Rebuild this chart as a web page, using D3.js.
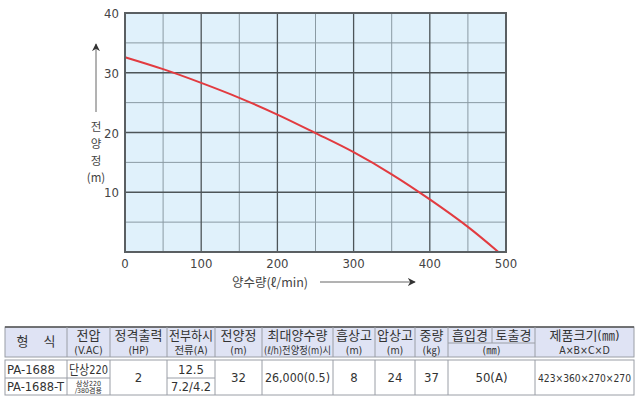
<!DOCTYPE html>
<html>
<head>
<meta charset="utf-8">
<script src="https://cdn.jsdelivr.net/npm/d3@7"></script>
<style>
  body { margin: 0; background: #fff; }
  svg { display: block; font-family: "DejaVu Sans Condensed", "Noto Sans CJK KR", sans-serif; }
</style>
</head>
<body>
<script>
// 성능곡선 데이터 (양수량 l/min, 전양정 m)
var flow = [0, 50, 100, 150, 200, 250, 300, 350, 400, 450, 490];
var head = [32.6, 30.6, 28.3, 25.8, 23.0, 19.9, 16.7, 13.0, 8.8, 4.2, 0];
var xTicks = [0, 100, 200, 300, 400, 500];
var yTicks = [10, 20, 30, 40];

// 사양표
var headers = ['형    식', '전압', '정격출력', '전부하시', '전양정', '최대양수량', '흡상고', '압상고', '중량', '흡입경', '토출경', '제품크기(㎜)'];
var subHeaders = ['', '(V.AC)', '(HP)', '전류(A)', '(m)', '(ℓ/h)전양정(m)시', '(m)', '(m)', '(㎏)', '(㎜)', '', 'A×B×C×D'];
var models = ['PA-1688', 'PA-1688-T'];
var voltage = ['단상220', '삼상220/380겸용'];
var current = ['12.5', '7.2/4.2'];
var shared = ['2', '32', '26,000(0.5)', '8', '24', '37', '50(A)', '423×360×270×270'];

var width = 638, height = 399;
var svg = d3.select('body').append('svg').attr('width', width).attr('height', height);

var x = d3.scaleLinear().domain([0, 500]).range([125, 506]);
var y = d3.scaleLinear().domain([0, 40]).range([252, 13]);

// 배경
svg.append('rect')
  .attr('x', x(0)).attr('y', y(40))
  .attr('width', x(500) - x(0)).attr('height', y(0) - y(40))
  .style('fill', '#e0f1fb');

// 보조 격자
svg.selectAll('.minorx').data(d3.range(50, 500, 100)).enter().append('line')
  .attr('x1', d => x(d)).attr('x2', d => x(d)).attr('y1', y(0)).attr('y2', y(40))
  .style('stroke', '#8a9aa3').style('stroke-width', 1);
svg.selectAll('.minory').data(d3.range(5, 40, 10)).enter().append('line')
  .attr('x1', x(0)).attr('x2', x(500)).attr('y1', d => y(d)).attr('y2', d => y(d))
  .style('stroke', '#8a9aa3').style('stroke-width', 1);
// 주 격자
svg.selectAll('.majorx').data(xTicks.slice(1, -1)).enter().append('line')
  .attr('x1', d => x(d)).attr('x2', d => x(d)).attr('y1', y(0)).attr('y2', y(40))
  .style('stroke', '#4d5558').style('stroke-width', 1.3);
svg.selectAll('.majory').data(yTicks.slice(0, -1)).enter().append('line')
  .attr('x1', x(0)).attr('x2', x(500)).attr('y1', d => y(d)).attr('y2', d => y(d))
  .style('stroke', '#4d5558').style('stroke-width', 1.3);

// 곡선
var line = d3.line().x((d, i) => x(flow[i])).y(d => y(d)).curve(d3.curveCatmullRom);
svg.append('path').datum(head)
  .attr('d', line)
  .style('fill', 'none').style('stroke', '#e23b40').style('stroke-width', 2);

// 테두리
svg.append('rect')
  .attr('x', x(0)).attr('y', y(40))
  .attr('width', x(500) - x(0)).attr('height', y(0) - y(40))
  .style('fill', 'none').style('stroke', '#5a5f62').style('stroke-width', 2);

// 눈금 라벨
svg.selectAll('.xt').data(xTicks).enter().append('text')
  .attr('x', d => x(d)).attr('y', 268)
  .attr('text-anchor', 'middle')
  .style('font-size', '13px').style('fill', '#444')
  .text(d => d);
svg.selectAll('.yt').data(yTicks).enter().append('text')
  .attr('x', 119).attr('y', d => y(d) + 5)
  .attr('text-anchor', 'end')
  .style('font-size', '13px').style('fill', '#444')
  .text(d => d);

// 축 제목
svg.append('defs').append('marker')
  .attr('id', 'arr').attr('viewBox', '0 0 10 10').attr('refX', 9).attr('refY', 5)
  .attr('markerWidth', 8).attr('markerHeight', 8).attr('orient', 'auto')
  .append('path').attr('d', 'M0,0 L10,5 L0,10 L3,5 z').style('fill', '#333');

svg.append('line').attr('x1', 96).attr('x2', 96).attr('y1', 112).attr('y2', 44)
  .style('stroke', '#666').style('stroke-width', 1).attr('marker-end', 'url(#arr)');
['전', '양', '정', '(m)'].forEach(function(t, i) {
  svg.append('text').attr('x', 96).attr('y', 131 + i * 17)
    .attr('text-anchor', 'middle')
    .style('font-family', 'Noto Sans CJK KR')
    .style('font-size', '11.5px').style('fill', '#444')
    .text(t);
});

svg.append('text').attr('x', 270).attr('y', 287)
  .attr('text-anchor', 'middle')
  .style('font-family', 'Noto Sans CJK KR')
  .style('font-size', '12.5px').style('fill', '#444')
  .text('양수량(ℓ/min)');
svg.append('line').attr('x1', 320).attr('x2', 415).attr('y1', 282).attr('y2', 282)
  .style('stroke', '#666').style('stroke-width', 1).attr('marker-end', 'url(#arr)');

// 사양표
var cols = [5, 67, 110, 167, 215, 262, 333, 375, 415, 448, 492, 535, 634];
var hTop = 327, hMid = 343, hBot = 357, bTop = 360, bMid = 378, bBot = 395;
var tb = svg.append('g').attr('class', 'spec');
var border = '#9a9ea6';

tb.append('rect').attr('x', cols[0]).attr('y', hTop)
  .attr('width', cols[12] - cols[0]).attr('height', hBot - hTop)
  .style('fill', '#dfe3f4').style('stroke', border).style('stroke-width', 1);
tb.append('rect').attr('x', cols[0]).attr('y', bTop)
  .attr('width', cols[12] - cols[0]).attr('height', bBot - bTop)
  .style('fill', '#fff').style('stroke', border).style('stroke-width', 1);
tb.append('line').attr('x1', cols[0]).attr('x2', cols[12]).attr('y1', hTop).attr('y2', hTop)
  .style('stroke', '#555').style('stroke-width', 1.5);

// 헤더 세로선
cols.slice(1, -1).forEach(function(c, i) {
  var bot = (i + 1 === 10) ? hMid : hBot;
  tb.append('line').attr('x1', c).attr('x2', c).attr('y1', hTop).attr('y2', bot)
    .style('stroke', border);
});
tb.append('line').attr('x1', cols[9]).attr('x2', cols[11]).attr('y1', hMid).attr('y2', hMid)
  .style('stroke', border);

// 본문 세로선
[1, 2, 3, 4, 5, 6, 7, 8, 9, 11].forEach(function(i) {
  tb.append('line').attr('x1', cols[i]).attr('x2', cols[i]).attr('y1', bTop).attr('y2', bBot)
    .style('stroke', border);
});
// 본문 가로선 (행 구분 있는 열만)
[[0, 1], [1, 2], [3, 4]].forEach(function(p) {
  tb.append('line').attr('x1', cols[p[0]]).attr('x2', cols[p[1]]).attr('y1', bMid).attr('y2', bMid)
    .style('stroke', border);
});

// 칸 폭에 맞게 글자 압축
function cellText(t, cx, cy, size, maxW, anchor) {
  var el = tb.append('text').attr('x', cx).attr('y', cy)
    .attr('text-anchor', anchor || 'middle')
    .style('font-size', size + 'px').style('fill', '#333')
    .style('white-space', 'pre')
    .text(t);
  var w = el.node().getComputedTextLength();
  if (maxW && w > maxW) {
    el.attr('textLength', maxW).attr('lengthAdjust', 'spacingAndGlyphs');
  }
  return el;
}

// 헤더 텍스트
headers.forEach(function(h, i) {
  var cx = (cols[i] + cols[i + 1]) / 2;
  var cw = cols[i + 1] - cols[i] - 4;
  if (i === 0) cellText(h, cx, 346, 13, cw);
  else cellText(h, cx, 340, 13, cw);
});
subHeaders.forEach(function(h, i) {
  if (!h) return;
  var cx = (cols[i] + cols[i + 1]) / 2;
  var cw = cols[i + 1] - cols[i] - 4;
  if (i === 9) { cx = (cols[9] + cols[11]) / 2; cw = cols[11] - cols[9] - 4; }
  cellText(h, cx, 354, 10.5, cw);
});

// 본문 텍스트
models.forEach(function(m, i) {
  cellText(m, cols[0] + 2, [374, 391][i], 13, cols[1] - cols[0] - 5, 'start');
});
cellText(voltage[0], (cols[1] + cols[2]) / 2, 374, 13, cols[2] - cols[1] - 4);
cellText('삼상220', (cols[1] + cols[2]) / 2, 385.5, 7, 28);
cellText('/380겸용', (cols[1] + cols[2]) / 2, 393, 7, 28);
current.forEach(function(c, i) {
  cellText(c, (cols[3] + cols[4]) / 2, [374, 391][i], 13, cols[4] - cols[3] - 8);
});
var sharedCols = [[2, 3], [4, 5], [5, 6], [6, 7], [7, 8], [8, 9], [9, 11], [11, 12]];
shared.forEach(function(s, i) {
  var c = sharedCols[i];
  cellText(s, (cols[c[0]] + cols[c[1]]) / 2, 382, i === 7 ? 11 : 13, cols[c[1]] - cols[c[0]] - 6);
});
</script>
</body>
</html>
